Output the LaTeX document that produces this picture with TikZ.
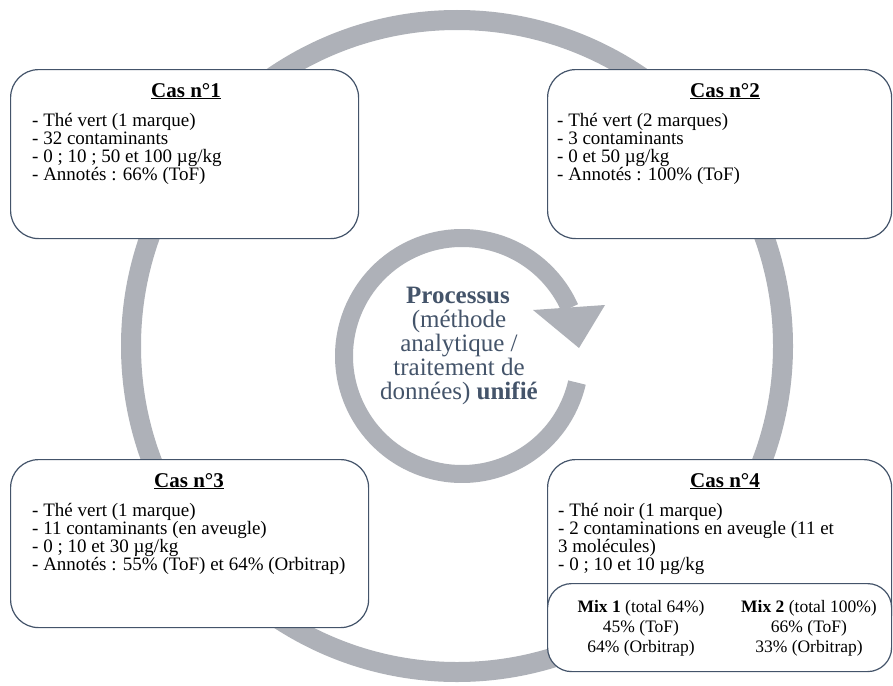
\documentclass[tikz,border=0pt]{standalone}
\usepackage{fontspec}
\setmainfont{Liberation Serif}
\definecolor{ringgray}{RGB}{174,177,184}
\definecolor{slate}{RGB}{68,84,106}
\begin{document}
\begin{tikzpicture}[x=1pt,y=-1pt]
\tikzset{
 casebox/.style={draw=slate, line width=1.2pt, fill=white, rounded corners=28pt, inner sep=0pt, anchor=north west},
 ttl/.style={anchor=base, inner sep=0pt, font=\fontsize{21}{21}\selectfont\bfseries},
 body/.style={anchor=base west, inner sep=0pt, font=\fontsize{19}{18}\selectfont},
 mixtext/.style={anchor=base, inner sep=0pt, font=\fontsize{17.5}{20}\selectfont},
 ctr/.style={anchor=base, inner sep=0pt, text=slate, font=\fontsize{25}{24}\selectfont},
}
\useasboundingbox (0,0) rectangle (893,685);
\fill[white] (0,0) rectangle (893,685);

% big ring
\coordinate (bigc) at (457,346);
\draw[ringgray, line width=20pt] (bigc) circle[radius=326];

% boxes
\node[casebox, minimum width=348pt, minimum height=169pt] (box1) at (10,69) {};
\node[casebox, minimum width=344pt, minimum height=169pt] (box2) at (547,69) {};
\node[casebox, minimum width=358pt, minimum height=168pt] (box3) at (10,459) {};
\node[casebox, minimum width=344pt, minimum height=181pt] (box4) at (547,459) {};
\node[casebox, rounded corners=24pt, minimum width=344pt, minimum height=88pt] (mixbox) at (547,583) {};

% box 1
\node[ttl] (t1) at (186,97) {\underline{Cas n°1}};
\node[body] (b1a) at (32,126) {- Thé vert (1 marque)};
\node[body] (b1b) at (32,144) {- 32 contaminants};
\node[body] (b1c) at (32,162) {- 0 ; 10 ; 50 et 100 µg/kg};
\node[body] (b1d) at (32,180) {- Annotés : 66\% (ToF)};

% box 2
\node[ttl] (t2) at (725,97) {\underline{Cas n°2}};
\node[body] (b2a) at (557,126) {- Thé vert (2 marques)};
\node[body] (b2b) at (557,144) {- 3 contaminants};
\node[body] (b2c) at (557,162) {- 0 et 50 µg/kg};
\node[body] (b2d) at (557,180) {- Annotés : 100\% (ToF)};

% box 3
\node[ttl] (t3) at (189,487) {\underline{Cas n°3}};
\node[body] (b3a) at (32,516) {- Thé vert (1 marque)};
\node[body] (b3b) at (32,534) {- 11 contaminants (en aveugle)};
\node[body] (b3c) at (32,552) {- 0 ; 10 et 30 µg/kg};
\node[body] (b3d) at (32,570) {- Annotés : 55\% (ToF) et 64\% (Orbitrap)};

% box 4
\node[ttl] (t4) at (725,487) {\underline{Cas n°4}};
\node[body] (b4a) at (558,516) {- Thé noir (1 marque)};
\node[body] (b4b) at (558,534) {- 2 contaminations en aveugle (11 et};
\node[body] (b4c) at (558,552) {3 molécules)};
\node[body] (b4d) at (558,570) {- 0 ; 10 et 10 µg/kg};

\node[mixtext] (m1a) at (641,612) {\textbf{Mix 1} (total 64\%)};
\node[mixtext] (m1b) at (641,632) {45\% (ToF)};
\node[mixtext] (m1c) at (641,652) {64\% (Orbitrap)};
\node[mixtext] (m2a) at (809,612) {\textbf{Mix 2} (total 100\%)};
\node[mixtext] (m2b) at (809,632) {66\% (ToF)};
\node[mixtext] (m2c) at (809,652) {33\% (Orbitrap)};

% inner circular arrow
\coordinate (arrc) at (462,356);
\draw[ringgray, line width=18pt] ([shift={(13:118)}]arrc) arc[start angle=13, end angle=336, radius=118];
\fill[ringgray] (533,310) -- (605,305) -- (579,348) -- cycle;

% centre text
\node[ctr] (c1) at (458,303) {\textbf{Processus}};
\node[ctr] (c2) at (459,327) {(méthode};
\node[ctr] (c3) at (459,351) {analytique /};
\node[ctr] (c4) at (459,375) {traitement de};
\node[ctr] (c5) at (459,399) {données) \textbf{unifié}};
\end{tikzpicture}
\end{document}
